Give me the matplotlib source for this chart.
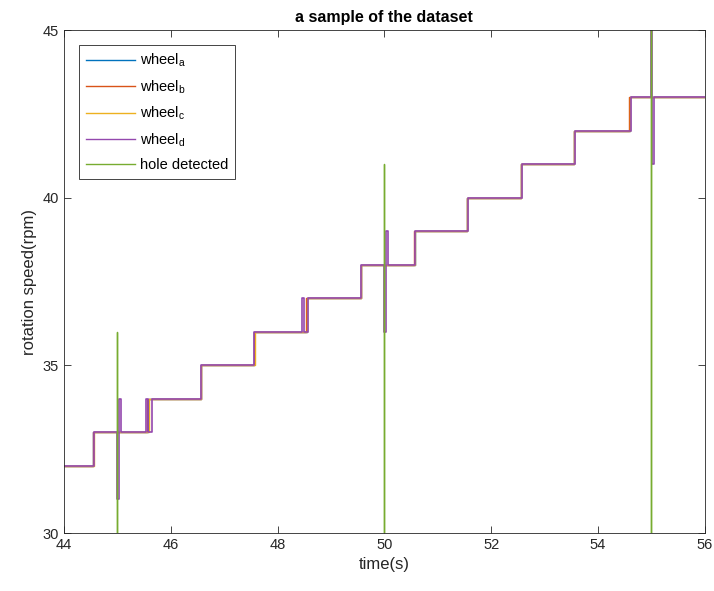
import matplotlib.pyplot as plt

plt.rcParams['font.family'] = ['Liberation Sans', 'DejaVu Sans']
plt.rcParams['mathtext.default'] = 'regular'

# step change times (s) and speeds (rpm) for each wheel
t_a = [44.0, 44.55, 45.58, 46.56, 47.56, 48.55, 49.56, 50.57, 51.55, 52.56, 53.56, 54.60, 56.0]
v_a = [32, 33, 34, 35, 36, 37, 38, 39, 40, 41, 42, 43, 43]

t_b = [44.0, 44.55, 45.56, 46.56, 47.56, 48.54, 49.56, 50.56, 51.54, 52.55, 53.55, 54.59, 56.0]
v_b = [32, 33, 34, 35, 36, 37, 38, 39, 40, 41, 42, 43, 43]

t_c = [44.0, 44.56, 45.60, 46.57, 47.58, 48.56, 49.57, 50.57, 51.55, 52.56, 53.56, 54.61, 56.0]
v_c = [32, 33, 34, 35, 36, 37, 38, 39, 40, 41, 42, 43, 43]

t_d = [44.0, 44.56, 45.00, 45.03, 45.06, 45.53, 45.57, 45.64, 46.57, 47.56, 48.46,
       48.50, 48.57, 49.57, 50.00, 50.04, 50.07, 50.58, 51.56, 52.57, 53.57, 54.62,
       54.99, 55.02, 55.05, 56.0]
v_d = [32, 33, 31, 34, 33, 34, 33, 34, 35, 36, 37,
       36, 37, 38, 36, 39, 38, 39, 40, 41, 42, 43,
       45, 41, 43, 43]

# hole detection signal (zero baseline, pulses at detections)
t_hole = [44.0, 45.0, 45.0, 45.0, 50.0, 50.0, 50.0, 55.0, 55.0, 55.0, 56.0]
v_hole = [0, 0, 36, 0, 0, 41, 0, 0, 46, 0, 0]

fig = plt.figure(figsize=(7.14, 5.91), dpi=100)
ax = fig.add_axes([0.0896, 0.0981, 0.8974, 0.851])

lw = 1.0
ax.plot(t_a, v_a, drawstyle='steps-post', color='#0072BD', lw=lw, label='wheel$_a$')
ax.plot(t_b, v_b, drawstyle='steps-post', color='#D95319', lw=lw, label='wheel$_b$')
ax.plot(t_c, v_c, drawstyle='steps-post', color='#EDB120', lw=lw, label='wheel$_c$')
ax.plot(t_d, v_d, drawstyle='steps-post', color='#9448AE', lw=1.2, label='wheel$_d$')
ax.plot(t_hole, v_hole, color='#77AC30', lw=1.0, label='hole detected')

ax.set_xlim(44, 56)
ax.set_ylim(30, 45)
ax.set_xticks([44, 46, 48, 50, 52, 54, 56])
ax.set_yticks([30, 35, 40, 45])
ax.tick_params(direction='in', top=True, right=True, length=5, labelsize=10.5,
               colors='#262626', width=0.6)
for s in ax.spines.values():
    s.set_color('#262626')
    s.set_linewidth(0.6)

ax.set_xlabel('time(s)', fontsize=12, color='#262626')
ax.set_ylabel('rotation speed(rpm)', fontsize=12, color='#262626')
ax.set_title('a sample of the dataset', fontsize=11.5, fontweight='bold', pad=6)

leg = ax.legend(loc='upper left', fontsize=10.5, handlelength=3.4, fancybox=False,
                edgecolor='#262626', framealpha=1, borderaxespad=1.0,
                labelspacing=0.62, handletextpad=0.3, borderpad=0.5)
leg.get_frame().set_linewidth(0.6)
for h in leg.get_lines():
    h.set_linewidth(1.0)

plt.savefig('out.png', dpi=100)
